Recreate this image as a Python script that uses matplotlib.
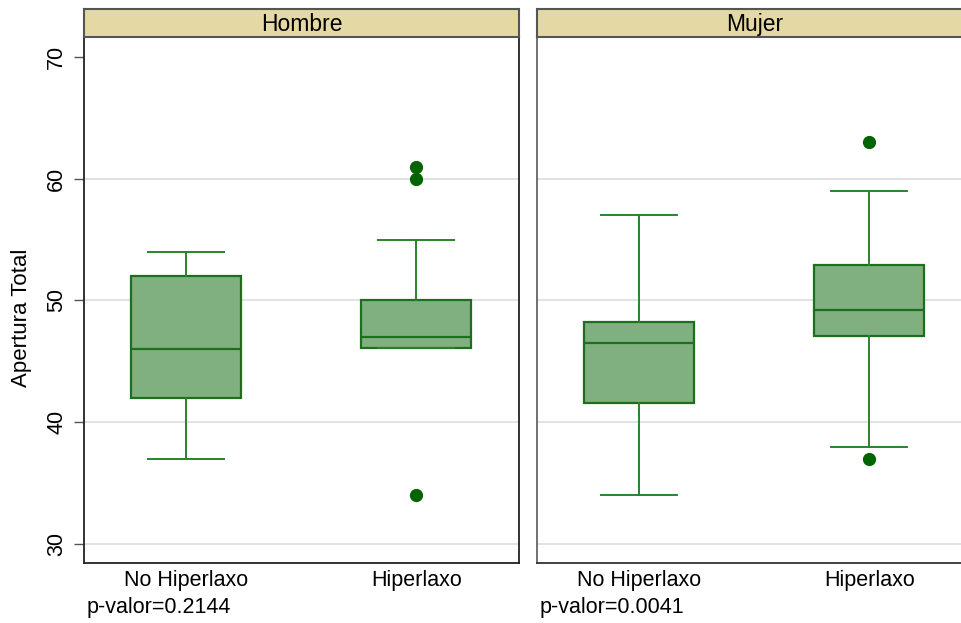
import matplotlib.pyplot as plt

plt.rcParams['font.family'] = ['Liberation Sans', 'DejaVu Sans']

# Resumen de cajas por sexo (q1, mediana, q3, bigotes, atípicos)
sexos = ['Hombre', 'Mujer']
grupos = ['No Hiperlaxo', 'Hiperlaxo']
p_valores = ['p-valor=0.2144', 'p-valor=0.0041']

q1 = {'Hombre': [42, 46.1], 'Mujer': [41.6, 47.1]}
mediana = {'Hombre': [46, 47], 'Mujer': [46.5, 49.2]}
q3 = {'Hombre': [52, 50], 'Mujer': [48.2, 52.9]}
bigote_inf = {'Hombre': [37, 46.1], 'Mujer': [34, 38]}
bigote_sup = {'Hombre': [54, 55], 'Mujer': [57, 59]}
atipicos = {'Hombre': [[], [60, 61, 34]], 'Mujer': [[], [63, 37]]}

verde_caja = '#80b080'
verde_borde = '#1d6e1d'
verde_linea = '#2a832a'
verde_punto = '#006400'
beige = '#e4d8a4'

fig = plt.figure(figsize=(9.61, 6.23), dpi=100)

for i, sexo in enumerate(sexos):
    left = [0.0874, 0.5588][i]
    ax = fig.add_axes([left, 0.0963, 0.4527, 0.8443])
    stats = []
    for j in range(2):
        stats.append(dict(q1=q1[sexo][j], med=mediana[sexo][j], q3=q3[sexo][j],
                          whislo=bigote_inf[sexo][j], whishi=bigote_sup[sexo][j],
                          fliers=atipicos[sexo][j]))
    ax.bxp(stats, positions=[0, 1], widths=0.48, patch_artist=True,
           boxprops=dict(facecolor=verde_caja, edgecolor=verde_borde, linewidth=1.6),
           medianprops=dict(color=verde_borde, linewidth=1.6),
           whiskerprops=dict(color=verde_linea, linewidth=1.4),
           capprops=dict(color=verde_linea, linewidth=1.4),
           capwidths=0.33,
           flierprops=dict(marker='o', markerfacecolor=verde_punto,
                           markeredgecolor=verde_punto, markersize=8.5))
    for g in [30, 40, 50, 60]:
        ax.axhline(g, color='#dddddd', linewidth=1.2, zorder=0)
    ax.set_xlim(-0.443, 1.447)
    ax.set_ylim(28.44, 71.64)
    ax.set_xticks([0, 1])
    ax.set_xticklabels(grupos, fontsize=15.5)
    ax.tick_params(axis='x', length=0, pad=5)
    if i == 0:
        ax.set_yticks([30, 40, 50, 60, 70])
        ax.set_yticklabels(['30', '40', '50', '60', '70'], rotation=90,
                           va='center', fontsize=15.5)
        ax.tick_params(axis='y', length=7, width=1, color='#555555', pad=5)
        for s in ['left', 'bottom', 'right']:
            ax.spines[s].set_color('#222222')
            ax.spines[s].set_linewidth(1.3)
    else:
        ax.set_yticks([])
        ax.spines['left'].set_color('#666666')
        ax.spines['bottom'].set_color('#333333')
        ax.spines['left'].set_linewidth(1.3)
        ax.spines['bottom'].set_linewidth(1.3)
        ax.spines['right'].set_visible(False)
    ax.spines['top'].set_visible(False)
    ax.text(0.006, -0.0837, p_valores[i], transform=ax.transAxes,
            ha='left', va='center', fontsize=15.5)

    # franja del título del panel
    cab = fig.add_axes([left, 0.9406, 0.4527, 0.0449])
    cab.set_facecolor(beige)
    cab.set_xticks([])
    cab.set_yticks([])
    for s in cab.spines.values():
        s.set_color('#555555')
        s.set_linewidth(1.5)
    cab.text(0.5, 0.45, sexo, transform=cab.transAxes, ha='center',
             va='center', fontsize=16.5)

fig.text(22 / 961, 0.49, 'Apertura Total', rotation=90, ha='center',
         va='center', fontsize=16)

fig.savefig('out.png', dpi=100)
